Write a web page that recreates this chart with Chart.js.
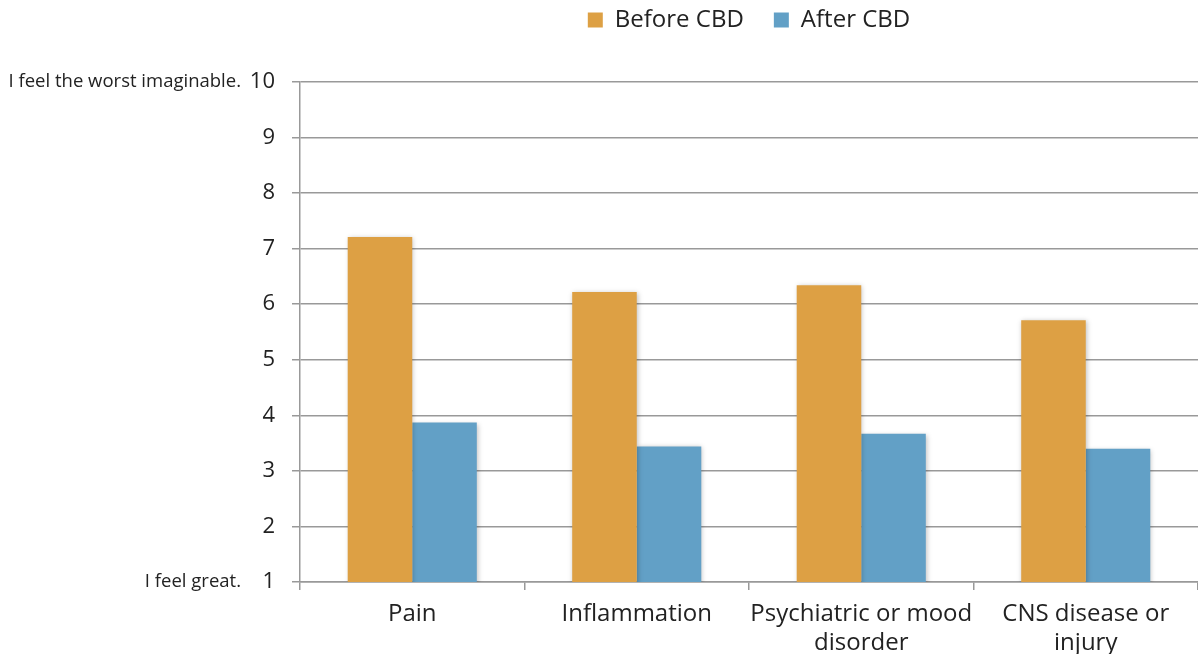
<!DOCTYPE html>
<html>
<head>
<meta charset="utf-8">
<script src="https://cdn.jsdelivr.net/npm/chart.js@4/dist/chart.umd.min.js"></script>
<style>
  html, body { margin: 0; padding: 0; background: #fff; }
  #wrap { width: 1198px; height: 654px; position: relative; }
</style>
</head>
<body>
<div id="wrap"><canvas id="myChart"></canvas></div>
<script>
// data
var categories = ["Pain", "Inflammation", ["Psychiatric or mood", "disorder"], ["CNS disease or", "injury"]];
var beforeCBD = [7.21, 6.22, 6.34, 5.71];
var afterCBD = [3.87, 3.44, 3.67, 3.40];
var yTicks = [1, 2, 3, 4, 5, 6, 7, 8, 9, 10];
var yEndLabels = { 1: "I feel great.", 10: "I feel the worst imaginable." };

Chart.defaults.font.family = "'Open Sans', sans-serif";
Chart.defaults.color = "#222";

// legend gets a fixed height so the plot starts where it does in the picture
var legendHeight = {
    id: "legendHeight",
    beforeInit: function (chart) {
        var fit = chart.legend.fit;
        chart.legend.fit = function () {
            fit.bind(chart.legend)();
            this.height = 104;
        };
    }
};

// soft shadow behind bars
var barShadow = {
    id: "barShadow",
    beforeDatasetsDraw: function (chart) {
        var ctx = chart.ctx;
        ctx.save();
        ctx.shadowColor = "rgba(0,0,0,0.25)";
        ctx.shadowBlur = 5;
        ctx.shadowOffsetX = 1;
        ctx.shadowOffsetY = 1;
    },
    afterDatasetsDraw: function (chart) {
        chart.ctx.restore();
    }
};

// small text next to the end ticks of the y axis
var endLabels = {
    id: "endLabels",
    afterDraw: function (chart) {
        var ctx = chart.ctx;
        var y = chart.scales.y;
        ctx.save();
        ctx.font = "18.5px 'Open Sans', sans-serif";
        ctx.fillStyle = "#222";
        ctx.textAlign = "right";
        ctx.textBaseline = "middle";
        Object.keys(yEndLabels).forEach(function (v) {
            ctx.fillText(yEndLabels[v], 241, y.getPixelForValue(Number(v)));
        });
        ctx.restore();
    }
};

var ctx = document.getElementById("myChart").getContext("2d");
var myChart = new Chart(ctx, {
    type: "bar",
    data: {
        labels: categories,
        datasets: [{
            label: "Before CBD",
            data: beforeCBD,
            backgroundColor: "#dda044",
            categoryPercentage: 0.575,
            barPercentage: 1
        }, {
            label: "After CBD",
            data: afterCBD,
            backgroundColor: "#62a0c6",
            categoryPercentage: 0.575,
            barPercentage: 1
        }]
    },
    options: {
        responsive: true,
        maintainAspectRatio: false,
        animation: false,
        layout: { padding: { left: 0, right: 0, top: -22, bottom: 0 } },
        plugins: {
            legend: {
                position: "top",
                fullSize: false,
                labels: {
                    boxWidth: 15,
                    boxHeight: 15,
                    padding: 30,
                    font: { size: 24 },
                    color: "#222"
                }
            },
            tooltip: { enabled: false }
        },
        scales: {
            x: {
                offset: true,
                grid: {
                    offset: true,
                    drawOnChartArea: false,
                    drawTicks: true,
                    tickLength: 8,
                    color: "#999",
                    lineWidth: 1.5
                },
                border: { color: "#999", width: 1.5 },
                ticks: {
                    font: { size: 24 },
                    color: "#222",
                    padding: 10,
                    maxRotation: 0,
                    autoSkip: false
                },
                afterFit: function (s) { s.height = 72; }
            },
            y: {
                min: 1,
                max: 10,
                afterBuildTicks: function (s) {
                    s.ticks = yTicks.map(function (v) { return { value: v }; });
                },
                grid: {
                    color: "#999",
                    lineWidth: 1.5,
                    tickLength: 8
                },
                border: { color: "#999", width: 1.5 },
                ticks: {
                    font: { size: 22 },
                    color: "#222",
                    padding: 17
                },
                afterFit: function (s) { s.width = 300; }
            }
        }
    },
    plugins: [legendHeight, barShadow, endLabels]
});
</script>
</body>
</html>
